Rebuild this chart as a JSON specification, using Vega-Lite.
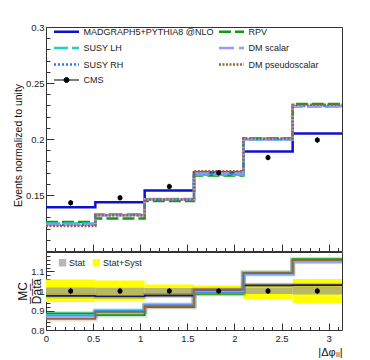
{
  "$schema": "https://vega.github.io/schema/vega-lite/v6.json",
  "autosize": {"type": "pad"},
  "padding": {"left": 12, "top": 21, "right": 5, "bottom": 0},
  "spacing": -6,
  "config": {
    "font": "Liberation Sans",
    "view": {"stroke": "#333333", "strokeWidth": 1},
    "axis": {"grid": false, "domain": false, "tickColor": "#333333", "tickWidth": 1, "labelFont": "Liberation Sans", "labelFontSize": 9.5, "labelColor": "#222222", "labelFlush": false, "labelOverlap": false, "labelBound": false, "titleFont": "Liberation Sans", "titleFontWeight": "normal", "titleColor": "#111111"},
    "legend": {"labelFont": "Liberation Sans", "labelColor": "#222222"}
  },
  "resolve": {"scale": {"color": "independent", "fill": "independent", "strokeDash": "independent", "opacity": "independent"}, "legend": {"color": "independent", "fill": "independent", "strokeDash": "independent"}},
  "datasets": {
    "hist": [
      {"s": "MADGRAPH5+PYTHIA8 @NLO", "x": 0, "v": 0.139}, {"s": "MADGRAPH5+PYTHIA8 @NLO", "x": 0.5236, "v": 0.1435}, {"s": "MADGRAPH5+PYTHIA8 @NLO", "x": 1.0472, "v": 0.154}, {"s": "MADGRAPH5+PYTHIA8 @NLO", "x": 1.5708, "v": 0.170}, {"s": "MADGRAPH5+PYTHIA8 @NLO", "x": 2.0944, "v": 0.1888}, {"s": "MADGRAPH5+PYTHIA8 @NLO", "x": 2.618, "v": 0.2048}, {"s": "MADGRAPH5+PYTHIA8 @NLO", "x": 3.1416, "v": 0.2048},
      {"s": "RPV", "x": 0, "v": 0.1258}, {"s": "RPV", "x": 0.5236, "v": 0.129}, {"s": "RPV", "x": 1.0472, "v": 0.1447}, {"s": "RPV", "x": 1.5708, "v": 0.1675}, {"s": "RPV", "x": 2.0944, "v": 0.2005}, {"s": "RPV", "x": 2.618, "v": 0.2313}, {"s": "RPV", "x": 3.1416, "v": 0.2313},
      {"s": "SUSY LH", "x": 0, "v": 0.1245}, {"s": "SUSY LH", "x": 0.5236, "v": 0.1328}, {"s": "SUSY LH", "x": 1.0472, "v": 0.1465}, {"s": "SUSY LH", "x": 1.5708, "v": 0.168}, {"s": "SUSY LH", "x": 2.0944, "v": 0.1995}, {"s": "SUSY LH", "x": 2.618, "v": 0.229}, {"s": "SUSY LH", "x": 3.1416, "v": 0.229},
      {"s": "SUSY RH", "x": 0, "v": 0.1235}, {"s": "SUSY RH", "x": 0.5236, "v": 0.1322}, {"s": "SUSY RH", "x": 1.0472, "v": 0.146}, {"s": "SUSY RH", "x": 1.5708, "v": 0.169}, {"s": "SUSY RH", "x": 2.0944, "v": 0.2}, {"s": "SUSY RH", "x": 2.618, "v": 0.2295}, {"s": "SUSY RH", "x": 3.1416, "v": 0.2295},
      {"s": "DM scalar", "x": 0, "v": 0.1235}, {"s": "DM scalar", "x": 0.5236, "v": 0.132}, {"s": "DM scalar", "x": 1.0472, "v": 0.1462}, {"s": "DM scalar", "x": 1.5708, "v": 0.1695}, {"s": "DM scalar", "x": 2.0944, "v": 0.1995}, {"s": "DM scalar", "x": 2.618, "v": 0.2292}, {"s": "DM scalar", "x": 3.1416, "v": 0.2292},
      {"s": "DM pseudoscalar", "x": 0, "v": 0.1224}, {"s": "DM pseudoscalar", "x": 0.5236, "v": 0.132}, {"s": "DM pseudoscalar", "x": 1.0472, "v": 0.146}, {"s": "DM pseudoscalar", "x": 1.5708, "v": 0.1712}, {"s": "DM pseudoscalar", "x": 2.0944, "v": 0.2005}, {"s": "DM pseudoscalar", "x": 2.618, "v": 0.2305}, {"s": "DM pseudoscalar", "x": 3.1416, "v": 0.2305}
    ],
    "cms": [
      {"x": 0.2618, "y": 0.143, "lo": 0.1405, "hi": 0.1455},
      {"x": 0.7854, "y": 0.1476, "lo": 0.1451, "hi": 0.1501},
      {"x": 1.309, "y": 0.1576, "lo": 0.1551, "hi": 0.1601},
      {"x": 1.8326, "y": 0.1699, "lo": 0.1674, "hi": 0.1724},
      {"x": 2.3562, "y": 0.1835, "lo": 0.181, "hi": 0.186},
      {"x": 2.8798, "y": 0.199, "lo": 0.1965, "hi": 0.2015}
    ],
    "ratio": [
      {"s": "MADGRAPH5+PYTHIA8 @NLO", "x": 0, "v": 0.975}, {"s": "MADGRAPH5+PYTHIA8 @NLO", "x": 0.5236, "v": 0.972}, {"s": "MADGRAPH5+PYTHIA8 @NLO", "x": 1.0472, "v": 0.977}, {"s": "MADGRAPH5+PYTHIA8 @NLO", "x": 1.5708, "v": 1.0}, {"s": "MADGRAPH5+PYTHIA8 @NLO", "x": 2.0944, "v": 1.029}, {"s": "MADGRAPH5+PYTHIA8 @NLO", "x": 2.618, "v": 1.03}, {"s": "MADGRAPH5+PYTHIA8 @NLO", "x": 3.1416, "v": 1.03},
      {"s": "RPV", "x": 0, "v": 0.885}, {"s": "RPV", "x": 0.5236, "v": 0.876}, {"s": "RPV", "x": 1.0472, "v": 0.918}, {"s": "RPV", "x": 1.5708, "v": 0.986}, {"s": "RPV", "x": 2.0944, "v": 1.093}, {"s": "RPV", "x": 2.618, "v": 1.163}, {"s": "RPV", "x": 3.1416, "v": 1.163},
      {"s": "SUSY LH", "x": 0, "v": 0.878}, {"s": "SUSY LH", "x": 0.5236, "v": 0.9}, {"s": "SUSY LH", "x": 1.0472, "v": 0.93}, {"s": "SUSY LH", "x": 1.5708, "v": 0.99}, {"s": "SUSY LH", "x": 2.0944, "v": 1.087}, {"s": "SUSY LH", "x": 2.618, "v": 1.152}, {"s": "SUSY LH", "x": 3.1416, "v": 1.152},
      {"s": "SUSY RH", "x": 0, "v": 0.872}, {"s": "SUSY RH", "x": 0.5236, "v": 0.895}, {"s": "SUSY RH", "x": 1.0472, "v": 0.927}, {"s": "SUSY RH", "x": 1.5708, "v": 0.995}, {"s": "SUSY RH", "x": 2.0944, "v": 1.09}, {"s": "SUSY RH", "x": 2.618, "v": 1.153}, {"s": "SUSY RH", "x": 3.1416, "v": 1.153},
      {"s": "DM scalar", "x": 0, "v": 0.87}, {"s": "DM scalar", "x": 0.5236, "v": 0.893}, {"s": "DM scalar", "x": 1.0472, "v": 0.926}, {"s": "DM scalar", "x": 1.5708, "v": 0.998}, {"s": "DM scalar", "x": 2.0944, "v": 1.088}, {"s": "DM scalar", "x": 2.618, "v": 1.15}, {"s": "DM scalar", "x": 3.1416, "v": 1.15},
      {"s": "DM pseudoscalar", "x": 0, "v": 0.857}, {"s": "DM pseudoscalar", "x": 0.5236, "v": 0.893}, {"s": "DM pseudoscalar", "x": 1.0472, "v": 0.922}, {"s": "DM pseudoscalar", "x": 1.5708, "v": 1.007}, {"s": "DM pseudoscalar", "x": 2.0944, "v": 1.092}, {"s": "DM pseudoscalar", "x": 2.618, "v": 1.158}, {"s": "DM pseudoscalar", "x": 3.1416, "v": 1.158}
    ],
    "bands": [
      {"band": "Stat+Syst", "x": 0, "x2": 0.5236, "lo": 0.943, "hi": 1.059},
      {"band": "Stat+Syst", "x": 0.5236, "x2": 1.0472, "lo": 0.95, "hi": 1.054},
      {"band": "Stat+Syst", "x": 1.0472, "x2": 1.5708, "lo": 0.972, "hi": 1.033},
      {"band": "Stat+Syst", "x": 1.5708, "x2": 2.0944, "lo": 0.976, "hi": 1.028},
      {"band": "Stat+Syst", "x": 2.0944, "x2": 2.618, "lo": 0.959, "hi": 1.041},
      {"band": "Stat+Syst", "x": 2.618, "x2": 3.1416, "lo": 0.938, "hi": 1.062},
      {"band": "Stat", "x": 0, "x2": 0.5236, "lo": 0.982, "hi": 1.018},
      {"band": "Stat", "x": 0.5236, "x2": 1.0472, "lo": 0.983, "hi": 1.017},
      {"band": "Stat", "x": 1.0472, "x2": 1.5708, "lo": 0.984, "hi": 1.016},
      {"band": "Stat", "x": 1.5708, "x2": 2.0944, "lo": 0.985, "hi": 1.015},
      {"band": "Stat", "x": 2.0944, "x2": 2.618, "lo": 0.984, "hi": 1.016},
      {"band": "Stat", "x": 2.618, "x2": 3.1416, "lo": 0.982, "hi": 1.018}
    ],
    "cmsr": [
      {"x": 0.2618, "y": 1, "lo": 0.984, "hi": 1.016},
      {"x": 0.7854, "y": 1, "lo": 0.984, "hi": 1.016},
      {"x": 1.309, "y": 1, "lo": 0.985, "hi": 1.015},
      {"x": 1.8326, "y": 1, "lo": 0.986, "hi": 1.014},
      {"x": 2.3562, "y": 1, "lo": 0.985, "hi": 1.015},
      {"x": 2.8798, "y": 1, "lo": 0.984, "hi": 1.016}
    ]
  },
  "vconcat": [
    {
      "width": 296,
      "height": 224,
      "resolve": {"axis": {"x": "independent", "y": "independent"}},
      "layer": [
        {
          "data": {"name": "hist"},
          "mark": {"type": "line", "interpolate": "step-after", "strokeWidth": 2.5, "strokeCap": "butt"},
          "encoding": {
            "x": {"field": "x", "type": "quantitative", "scale": {"domain": [0, 3.1416], "nice": false, "zero": false},
              "axis": {"orient": "bottom", "labels": false, "ticks": false, "title": null, "minExtent": 0, "maxExtent": 0}},
            "y": {"field": "v", "type": "quantitative", "scale": {"domain": [0.1, 0.3], "nice": false, "zero": false},
              "axis": {"orient": "left", "values": [0.15, 0.2, 0.25, 0.3], "format": "~g", "ticks": false, "labelPadding": 2,
                "title": "Events normalized to unity", "titleFontSize": 10.5, "titleX": -28, "titleY": 118, "titleBaseline": "middle"}},
            "color": {"field": "s", "type": "nominal",
              "scale": {"domain": ["MADGRAPH5+PYTHIA8 @NLO", "SUSY LH", "SUSY RH", "CMS", "RPV", "DM scalar", "DM pseudoscalar"],
                "range": ["#1111cc", "#22cccc", "#3377ee", "#000000", "#119911", "#9999ff", "#996633"]},
              "legend": {"title": null, "orient": "none", "legendX": 16, "legendY": 0, "columns": 2, "symbolType": "M-2.5,0H2.5", "symbolSize": 100, "symbolStrokeWidth": 2.5, "labelFontSize": 9, "labelOffset": 12.5, "rowPadding": 5.5, "columnPadding": 0, "padding": 0, "labelLimit": 300,
                "encode": {"symbols": {"update": {
                  "shape": {"signal": "datum.value === 'CMS' ? 'M-2.5,0H2.5M-0.5,0A0.5,0.5 0 1 1 0.5,0A0.5,0.5 0 1 1 -0.5,0Z' : 'M-2.5,0H2.5'"},
                  "fill": {"signal": "datum.value === 'CMS' ? '#000000' : 'transparent'"},
                  "strokeWidth": {"signal": "datum.value === 'CMS' ? 1 : 2.5"}}}}}},
            "strokeDash": {"field": "s", "type": "nominal",
              "scale": {"domain": ["MADGRAPH5+PYTHIA8 @NLO", "SUSY LH", "SUSY RH", "CMS", "RPV", "DM scalar", "DM pseudoscalar"],
                "range": [[1, 0], [14, 4], [2, 2], [1, 0], [12, 4], [15, 5], [2, 1.5]]},
              "legend": {"title": null, "orient": "none", "legendX": 16, "legendY": 0, "columns": 2, "symbolType": "M-2.5,0H2.5", "symbolSize": 100, "symbolStrokeWidth": 2.5, "labelFontSize": 9, "labelOffset": 12.5, "rowPadding": 5.5, "columnPadding": 0, "padding": 0, "labelLimit": 300}}
          }
        },
        {
          "data": {"name": "cms"},
          "mark": {"type": "rule", "color": "#000000", "strokeWidth": 1},
          "encoding": {
            "x": {"field": "x", "type": "quantitative",
              "axis": {"orient": "bottom", "values": [0, 0.5, 1, 1.5, 2, 2.5, 3], "labels": false, "tickSize": 7, "offset": -7, "title": null, "minExtent": 0, "maxExtent": 0}},
            "y": {"field": "lo", "type": "quantitative",
              "axis": {"orient": "left", "values": [0.1, 0.15, 0.2, 0.25, 0.3], "labels": false, "tickSize": 8, "offset": -8, "title": null, "minExtent": 0, "maxExtent": 0}},
            "y2": {"field": "hi"}
          }
        },
        {
          "data": {"name": "cms"},
          "mark": {"type": "point", "filled": true, "color": "#000000", "size": 25, "opacity": 1},
          "encoding": {
            "x": {"field": "x", "type": "quantitative",
              "axis": {"orient": "bottom", "values": [0,0.1,0.2,0.3,0.4,0.5,0.6,0.7,0.8,0.9,1,1.1,1.2,1.3,1.4,1.5,1.6,1.7,1.8,1.9,2,2.1,2.2,2.3,2.4,2.5,2.6,2.7,2.8,2.9,3,3.1], "labels": false, "tickSize": 3.5, "offset": -3.5, "title": null, "minExtent": 0, "maxExtent": 0}},
            "y": {"field": "y", "type": "quantitative",
              "axis": {"orient": "left", "values": [0.1,0.11,0.12,0.13,0.14,0.15,0.16,0.17,0.18,0.19,0.2,0.21,0.22,0.23,0.24,0.25,0.26,0.27,0.28,0.29,0.3], "labels": false, "tickSize": 4, "offset": -4, "title": null, "minExtent": 0, "maxExtent": 0}}
          }
        }
      ]
    },
    {
      "width": 296,
      "height": 78,
      "resolve": {"axis": {"x": "independent", "y": "independent"}},
      "layer": [
        {
          "data": {"name": "bands"},
          "mark": {"type": "rect"},
          "encoding": {
            "x": {"field": "x", "type": "quantitative", "scale": {"domain": [0, 3.1416], "nice": false, "zero": false},
              "axis": {"orient": "bottom", "values": [0, 0.5, 1, 1.5, 2, 2.5, 3], "format": "~g", "ticks": false, "labelPadding": 3,
                "title": "|Δφₗₗ|", "titleFontSize": 11, "titleX": 296, "titleY": 22, "titleAlign": "right", "titleBaseline": "middle"}},
            "x2": {"field": "x2"},
            "y": {"field": "lo", "type": "quantitative", "scale": {"domain": [0.8, 1.2], "nice": false, "zero": false},
              "axis": {"orient": "left", "values": [0.8, 0.9, 1, 1.1], "format": "~g", "ticks": false, "labelPadding": 2,
                "title": ["MC", "D̅a̅t̅a̅"], "titleFontSize": 12, "titleLineHeight": 14, "titleX": -24, "titleY": 39, "titleBaseline": "middle"}},
            "y2": {"field": "hi"},
            "fill": {"field": "band", "type": "nominal",
              "scale": {"domain": ["Stat", "Stat+Syst"], "range": ["#999999", "#ffff00"]},
              "legend": {"title": null, "orient": "none", "legendX": 12, "legendY": 6, "direction": "horizontal", "symbolType": "square", "symbolSize": 55, "symbolStrokeWidth": 0, "labelFontSize": 9, "labelOffset": 2, "columnPadding": 6, "padding": 0}},
            "opacity": {"field": "band", "type": "nominal", "scale": {"domain": ["Stat", "Stat+Syst"], "range": [0.7, 1]}, "legend": null}
          }
        },
        {
          "mark": {"type": "rule", "color": "#555555", "strokeWidth": 1.5, "strokeDash": [3, 3]},
          "encoding": {"y": {"datum": 1, "axis": null}}
        },
        {
          "data": {"name": "ratio"},
          "mark": {"type": "line", "interpolate": "step-after", "strokeWidth": 5, "opacity": 0.2},
          "encoding": {
            "x": {"field": "x", "type": "quantitative",
              "axis": {"orient": "bottom", "values": [0, 0.5, 1, 1.5, 2, 2.5, 3], "labels": false, "tickSize": 7, "offset": -7, "title": null, "minExtent": 0, "maxExtent": 0}},
            "y": {"field": "v", "type": "quantitative",
              "axis": {"orient": "left", "values": [0.8, 0.9, 1, 1.1, 1.2], "labels": false, "tickSize": 8, "offset": -8, "title": null, "minExtent": 0, "maxExtent": 0}},
            "color": {"field": "s", "type": "nominal",
              "scale": {"domain": ["MADGRAPH5+PYTHIA8 @NLO", "RPV", "SUSY LH", "DM scalar", "SUSY RH", "DM pseudoscalar"],
                "range": ["#151590", "#119911", "#22cccc", "#9999ff", "#3377ee", "#996633"]}, "legend": null}
          }
        },
        {
          "data": {"name": "ratio"},
          "mark": {"type": "line", "interpolate": "step-after", "strokeWidth": 1.8},
          "encoding": {
            "x": {"field": "x", "type": "quantitative",
              "axis": {"orient": "bottom", "values": [0,0.1,0.2,0.3,0.4,0.5,0.6,0.7,0.8,0.9,1,1.1,1.2,1.3,1.4,1.5,1.6,1.7,1.8,1.9,2,2.1,2.2,2.3,2.4,2.5,2.6,2.7,2.8,2.9,3,3.1], "labels": false, "tickSize": 3.5, "offset": -3.5, "title": null, "minExtent": 0, "maxExtent": 0}},
            "y": {"field": "v", "type": "quantitative",
              "axis": {"orient": "left", "values": [0.8,0.82,0.84,0.86,0.88,0.9,0.92,0.94,0.96,0.98,1,1.02,1.04,1.06,1.08,1.1,1.12,1.14,1.16,1.18,1.2], "labels": false, "tickSize": 4, "offset": -4, "title": null, "minExtent": 0, "maxExtent": 0}},
            "color": {"field": "s", "type": "nominal", "legend": null}
          }
        },
        {
          "data": {"name": "cmsr"},
          "mark": {"type": "rule", "color": "#000000", "strokeWidth": 1},
          "encoding": {"x": {"field": "x", "type": "quantitative", "axis": null}, "y": {"field": "lo", "type": "quantitative", "axis": null}, "y2": {"field": "hi"}}
        },
        {
          "data": {"name": "cmsr"},
          "mark": {"type": "point", "filled": true, "color": "#000000", "size": 25, "opacity": 1},
          "encoding": {"x": {"field": "x", "type": "quantitative", "axis": null}, "y": {"field": "y", "type": "quantitative", "axis": null}}
        }
      ]
    }
  ]
}
